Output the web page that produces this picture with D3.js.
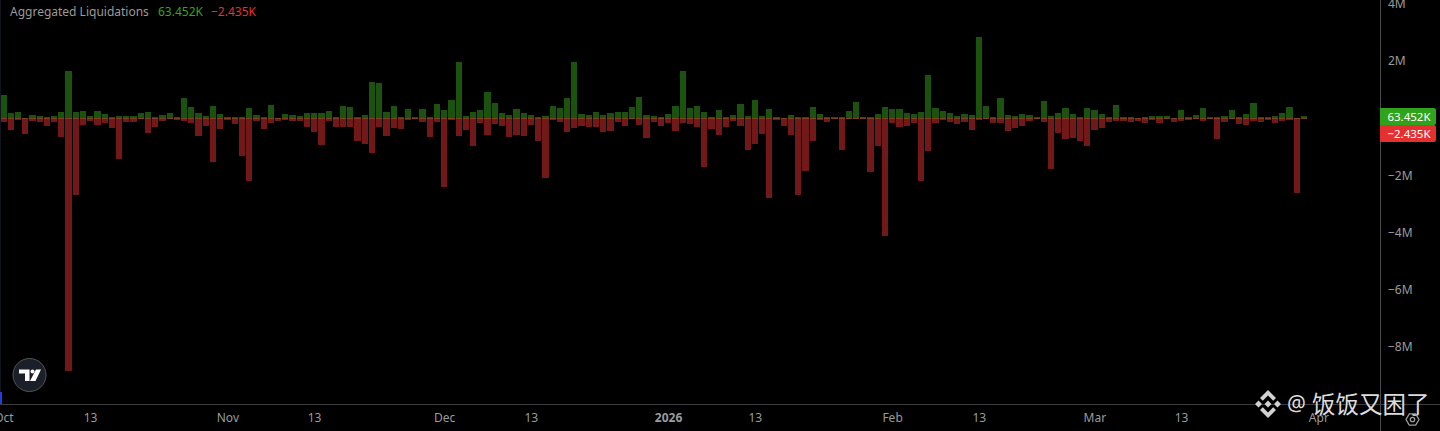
<!DOCTYPE html>
<html>
<head>
<meta charset="utf-8">
<script src="https://cdn.jsdelivr.net/npm/d3@7"></script>
<style>
  html, body { margin: 0; padding: 0; background: #000; overflow: hidden; }
  svg { display: block; }
  text { font-family: "Noto Sans", sans-serif; }
</style>
</head>
<body>
<script>
// daily values in K (Oct 1 2025 to Mar 30 2026)
const longs = [
  818, 187, 222, 23, 117, 82, 47, 82, 222, 1659,
  222, 257, 82, 257, 152, 47, 82, 82, 82, 187,
  222, 47, 117, 187, 47, 712, 397, 187, 82, 432,
  152, 47, 47, 47, 362, 117, 47, 467, 23, 152,
  117, 82, 187, 187, 187, 257, 47, 432, 397, 47,
  117, 1273, 1238, 222, 432, 47, 327, 47, 327, 47,
  502, 292, 642, 1974, 82, 222, 292, 923, 537, 187,
  117, 327, 187, 117, 47, 82, 432, 362, 712, 1974,
  152, 117, 222, 117, 187, 222, 222, 397, 748, 117,
  82, 47, 152, 432, 1659, 362, 432, 222, 47, 292,
  35, 117, 502, 82, 642, 82, 327, 35, 12, 117,
  35, 35, 397, 152, 35, 35, 35, 257, 572, 35,
  35, 152, 397, 327, 327, 187, 152, 222, 1518, 362,
  257, 187, 82, 152, 117, 2850, 432, 35, 712, 117,
  82, 152, 117, 35, 607, 82, 187, 362, 152, 35,
  362, 292, 152, 47, 467, 47, 47, 23, 47, 82,
  82, 82, 23, 292, 47, 117, 362, 47, 47, 82,
  292, 47, 152, 537, 47, 47, 82, 187, 397, 23,
  63.452
]
const shorts = [
  117, 397, 47, 537, 82, 117, 257, 117, 654, 8851,
  2675, 234, 82, 234, 152, 339, 1413, 117, 117, 23,
  502, 304, 82, 12, 47, 82, 164, 607, 257, 1518,
  362, 47, 187, 1308, 2184, 82, 362, 152, 82, 47,
  82, 82, 292, 467, 923, 82, 292, 292, 292, 783,
  888, 1203, 292, 607, 327, 362, 47, 35, 117, 642,
  117, 2394, 47, 607, 397, 958, 152, 572, 187, 257,
  642, 572, 607, 222, 783, 2079, 47, 117, 467, 327,
  257, 292, 292, 467, 432, 117, 257, 12, 222, 677,
  117, 257, 152, 432, 152, 187, 292, 1694, 362, 572,
  292, 82, 257, 1098, 888, 537, 2780, 47, 257, 572,
  2675, 1834, 783, 47, 117, 12, 1098, 12, 12, 12,
  1869, 958, 4111, 152, 292, 257, 152, 2184, 1133, 152,
  47, 117, 187, 117, 397, 47, 12, 152, 152, 432,
  327, 257, 82, 12, 117, 1764, 502, 712, 677, 783,
  958, 397, 327, 117, 82, 82, 117, 82, 164, 47,
  152, 35, 117, 82, 47, 23, 82, 23, 712, 117,
  23, 187, 222, 82, 117, 47, 164, 82, 47, 2605,
  2.435
]
const yTicks = [4000, 2000, -2000, -4000, -6000, -8000]
const yTickLabels = ['4M', '2M', '−2M', '−4M', '−6M', '−8M']
const xTickDates = ['2025-10-01', '2025-10-13', '2025-11-01', '2025-11-13', '2025-12-01', '2025-12-13',
  '2026-01-01', '2026-01-13', '2026-02-01', '2026-02-13', '2026-03-01', '2026-03-13', '2026-04-01']
const xTickLabels = ['Oct', '13', 'Nov', '13', 'Dec', '13', '2026', '13', 'Feb', '13', 'Mar', '13', 'Apr']
const lastLong = '63.452K'
const lastShort = '−2.435K'

const width = 1440, height = 431
const axisX = 1380, axisY = 404
const green = '#36a41c', red = '#e53030', textGray = '#9b9b9b'

const svg = d3.select('body').append('svg')
    .attr('width', width)
    .attr('height', height)

const start = new Date(Date.UTC(2025, 9, 1))
const end = new Date(Date.UTC(2026, 3, 1))
const days = longs.map((d, i) => d3.utcDay.offset(start, i))

const xScale = d3.scaleUtc()
    .domain([start, end])
    .range([3.4, 3.4 + 182 * 7.225])

const yScale = d3.scaleLinear()
    .domain([-8000, 4000])
    .range([346.7, 3.9])

const zero = Math.round(yScale(0))
// snap bars to whole pixels, 1px gap between days
const barLeft = d => Math.round(xScale(d) - 3)
const barWidth = d => Math.round(xScale(d3.utcDay.offset(d, 1)) - 3) - 1 - barLeft(d)

const bars = svg.append('g').attr('shape-rendering', 'crispEdges')

bars.selectAll('.long').data(longs)
    .enter()
    .append('rect')
    .attr('x', (d, i) => barLeft(days[i]))
    .attr('width', (d, i) => barWidth(days[i]))
    .attr('y', d => Math.min(Math.round(yScale(d)), zero))
    .attr('height', d => zero + 1 - Math.min(Math.round(yScale(d)), zero))
    .attr('fill', green)
    .attr('fill-opacity', 0.5)

bars.selectAll('.short').data(shorts)
    .enter()
    .append('rect')
    .attr('x', (d, i) => barLeft(days[i]))
    .attr('width', (d, i) => barWidth(days[i]))
    .attr('y', zero)
    .attr('height', d => Math.max(Math.round(yScale(-d)) - zero, 1))
    .attr('fill', red)
    .attr('fill-opacity', 0.5)

// frame lines
svg.append('line').attr('x1', 0).attr('x2', width).attr('y1', axisY + 0.5).attr('y2', axisY + 0.5)
    .attr('stroke', '#3d3d3d')
svg.append('line').attr('x1', axisX + 0.5).attr('x2', axisX + 0.5).attr('y1', 0).attr('y2', height)
    .attr('stroke', '#4a4a4a')
svg.append('rect').attr('x', 0).attr('y', 0).attr('width', 1).attr('height', 392)
    .attr('fill', '#10141f')
svg.append('rect').attr('x', 0).attr('y', 392).attr('width', 2).attr('height', 12)
    .attr('fill', '#1d3fe0')

// axes
const yAxis = svg.append('g')
    .attr('transform', 'translate(' + axisX + ',0)')
    .call(d3.axisRight(yScale)
        .tickValues(yTicks)
        .tickSize(0)
        .tickPadding(8)
        .tickFormat((d, i) => yTickLabels[i]))
yAxis.select('.domain').remove()
yAxis.selectAll('text').attr('fill', textGray).style('font-size', '12px')

const xAxis = svg.append('g')
    .attr('transform', 'translate(0,' + axisY + ')')
    .call(d3.axisBottom(xScale)
        .tickValues(xTickDates.map(d => new Date(d + 'T00:00:00Z')))
        .tickSize(0)
        .tickPadding(9)
        .tickFormat((d, i) => xTickLabels[i]))
xAxis.select('.domain').remove()
xAxis.selectAll('text')
    .attr('fill', textGray)
    .style('font-size', '12px')
    .style('font-weight', (d, i) => xTickLabels[i] === '2026' ? 700 : 400)

// legend
const legend = svg.append('text').attr('x', 10).attr('y', 16).style('font-size', '12px')
legend.append('tspan').attr('fill', '#9b9b9b').text('Aggregated Liquidations')
legend.append('tspan').attr('x', 158).attr('fill', green).text(lastLong)
legend.append('tspan').attr('x', 211).attr('fill', red).text(lastShort)

// last value badges
const badges = [
  {y: 108, h: 17, fill: '#2ea31b', label: lastLong},
  {y: 125, h: 17, fill: red, label: lastShort}
]
badges.forEach(b => {
    svg.append('path')
        .attr('d', 'M' + axisX + ' ' + b.y + 'H1434q2 0 2 2V' + (b.y + b.h - 2) + 'q0 2 -2 2H' + axisX + 'Z')
        .attr('fill', b.fill)
    svg.append('text')
        .attr('x', 1409).attr('y', b.y + 13)
        .attr('text-anchor', 'middle')
        .attr('fill', '#fff')
        .style('font-size', '11.5px')
        .text(b.label)
})

// tradingview badge
const tv = svg.append('g').attr('transform', 'translate(29.5,375)')
tv.append('circle').attr('r', 16.5).attr('fill', '#1b1f29').attr('stroke', '#555').attr('stroke-width', 1)
tv.append('path').attr('fill', '#fff')
    .attr('d', 'M-10.5 -5.5H0V6H-4.5V-1.5H-10.5Z M6.5 -5.5H11.5L6 6H0.5Z')
tv.append('circle').attr('cx', 3).attr('cy', -3.5).attr('r', 2).attr('fill', '#fff')

// watermark
const mark = svg.append('g').attr('transform', 'translate(1268,404)').attr('fill', '#d2d2d2')
mark.append('path').attr('d', 'M0 -3.5L3.5 0L0 3.5L-3.5 0Z M-9.5 -3.5L-6 0L-9.5 3.5L-13 0Z M9.5 -3.5L13 0L9.5 3.5L6 0Z')
mark.append('path').attr('d', 'M0 -14L8 -6L5.2 -3.2L0 -8.4L-5.2 -3.2L-8 -6Z M0 14L-8 6L-5.2 3.2L0 8.4L5.2 3.2L8 6Z')

svg.append('text')
    .attr('x', 1287).attr('y', 411)
    .attr('fill', '#dcdcdc')
    .style('font-size', '21px')
    .text('@')
svg.append('text')
    .attr('x', 1312).attr('y', 413)
    .attr('fill', '#dcdcdc')
    .style('font-family', '"Noto Sans CJK SC", sans-serif')
    .style('font-size', '23.5px')
    .text('饭饭又困了')

// settings icon
const gear = svg.append('g').attr('transform', 'translate(1412.5,419.5)')
    .attr('fill', 'none').attr('stroke', '#9b9b9b')
gear.append('path').attr('stroke-width', 1.3).attr('d', 'M-3.2 -5.6H3.2L6.5 0L3.2 5.6H-3.2L-6.5 0Z')
gear.append('circle').attr('r', 2.2).attr('stroke-width', 1.3)
</script>
</body>
</html>
